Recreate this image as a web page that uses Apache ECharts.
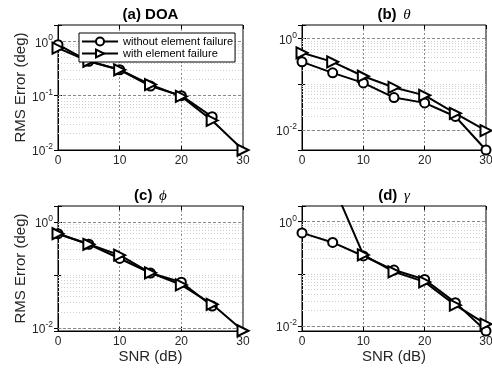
<!DOCTYPE html>
<html>
<head>
<meta charset="utf-8">
<title>RMS Error vs SNR</title>
<script src="https://cdn.jsdelivr.net/npm/echarts@6/dist/echarts.min.js"></script>
<style>
  html, body { margin: 0; padding: 0; background: #fff; }
  #chart { width: 492px; height: 370px; }
</style>
</head>
<body>
<div id="chart"></div>
<script>
// SNR steps (dB)
const snr = [0, 5, 10, 15, 20, 25, 30];

// RMS error (deg); null = not plotted (zero on log axis)
const doaWithout   = [0.87, 0.43, 0.30, 0.15, 0.100, 0.041, null];
const doaWith      = [0.75, 0.43, 0.30, 0.16, 0.097, 0.035, 0.010];
const thetaWithout = [0.31, 0.178, 0.107, 0.051, 0.039, 0.0196, 0.0036];
const thetaWith    = [0.49, 0.31, 0.15, 0.085, 0.057, 0.023, 0.0096];
const phiWithout   = [0.60, 0.38, 0.205, 0.109, 0.073, 0.026, null];
const phiWith      = [0.60, 0.38, 0.237, 0.110, 0.065, 0.028, 0.0089];
const gammaWithout = [0.61, 0.40, 0.22, 0.118, 0.078, 0.028, 0.008];
const gammaWith    = [9.0, 5.3, 0.23, 0.109, 0.070, 0.025, 0.0108];

const seriesNames = ['without element failure', 'with element failure'];
const panelTitles = ['{b|(a) DOA}', '{b|(b)}  {g|θ}', '{b|(c)}  {g|ϕ}', '{b|(d)}  {g|γ}'];
const xTicks = [0, 10, 20, 30];
const yTickLabels = [[1, 0.1, 0.01], [1, 0.01], [1, 0.01], [1, 0.01]];
const yMins = [0.01, 0.0036, 0.0088, 0.008];
const yMax = 2;

const panels = [
  [doaWithout, doaWith],
  [thetaWithout, thetaWith],
  [phiWithout, phiWith],
  [gammaWithout, gammaWith]
];

const FONT = '"Liberation Sans", Arial, Helvetica, sans-serif';
const TXT = '#262626';

const grids = [
  { left: 58, top: 25, width: 185, height: 125 },
  { left: 302, top: 25, width: 184, height: 125 },
  { left: 58, top: 206, width: 185, height: 125 },
  { left: 302, top: 206, width: 184, height: 125 }
];

const isDecade = v => Math.abs(Math.log10(v) - Math.round(Math.log10(v))) < 1e-6;

function logLabel(v, shown) {
  if (!isDecade(v)) return '';
  const e = Math.round(Math.log10(v));
  if (!shown.some(s => Math.round(Math.log10(s)) === e)) return '';
  return '{b|10}{s|' + e + '}';
}

// grid lines at 1..9 x 10^k inside the axis range
function logGridLines(min, max, major) {
  const out = [];
  for (let k = Math.floor(Math.log10(min)); k <= Math.ceil(Math.log10(max)); k++) {
    for (let m = 1; m <= 9; m++) {
      const v = m * Math.pow(10, k);
      if (v <= min * 1.0001 || v >= max * 0.9999) continue;
      const isMajor = major.some(s => Math.abs(s - v) / s < 1e-6);
      out.push({
        yAxis: v,
        lineStyle: isMajor
          ? { color: '#8a8a8a', width: 1, type: [3, 2] }
          : { color: '#cfcfcf', width: 1, type: [1, 2] }
      });
    }
  }
  return out;
}

const tickStyle = { inside: true, length: 4, lineStyle: { color: '#000' } };

const xAxes = [];
const yAxes = [];
grids.forEach((g, i) => {
  xAxes.push({
    type: 'value',
    gridIndex: i,
    min: 0,
    max: 30,
    interval: 10,
    axisLine: { onZero: false, lineStyle: { color: '#000', width: 1 } },
    axisTick: tickStyle,
    axisLabel: {
      fontSize: 12, color: TXT, margin: 5, fontFamily: FONT,
      formatter: v => (xTicks.indexOf(v) >= 0 ? String(v) : '')
    },
    splitLine: { show: true, lineStyle: { color: '#8a8a8a', width: 1, type: [2, 2] } },
    name: i >= 2 ? 'SNR (dB)' : '',
    nameLocation: 'middle',
    nameGap: 16,
    nameTextStyle: { fontSize: 15, color: TXT, fontFamily: FONT }
  });
  yAxes.push({
    type: 'log',
    logBase: 10,
    gridIndex: i,
    min: yMins[i],
    max: yMax,
    axisLine: { show: true, onZero: false, lineStyle: { color: '#000', width: 1 } },
    axisTick: tickStyle,
    axisLabel: {
      margin: 5,
      formatter: v => logLabel(v, yTickLabels[i]),
      rich: {
        b: { fontSize: 12, lineHeight: 16, verticalAlign: 'bottom', color: TXT, fontFamily: FONT },
        s: { fontSize: 8.5, lineHeight: 8, verticalAlign: 'top', color: TXT, fontFamily: FONT }
      }
    },
    splitLine: { show: false },
    name: i % 2 === 0 ? 'RMS Error (deg)' : '',
    nameLocation: 'middle',
    nameGap: 29,
    nameTextStyle: { fontSize: 15, color: TXT, fontFamily: FONT }
  });
});
// mirrored ticks on the top and right edges of each box
grids.forEach((g, i) => {
  xAxes.push({
    type: 'value', gridIndex: i, position: 'top', min: 0, max: 30, interval: 10,
    axisLine: { show: false }, axisTick: tickStyle,
    axisLabel: { show: false }, splitLine: { show: false }
  });
  yAxes.push({
    type: 'log', logBase: 10, gridIndex: i, position: 'right', min: yMins[i], max: yMax,
    axisLine: { show: false }, axisTick: tickStyle,
    axisLabel: { show: false }, splitLine: { show: false }
  });
});

const series = [];
panels.forEach((pair, i) => {
  // grid lines behind the curves
  series.push({
    type: 'line',
    xAxisIndex: i,
    yAxisIndex: i,
    data: [],
    z: 1,
    silent: true,
    markLine: {
      z: 1,
      silent: true,
      symbol: ['none', 'none'],
      label: { show: false },
      animation: false,
      data: logGridLines(yMins[i], yMax, yTickLabels[i])
    }
  });
  pair.forEach((vals, k) => {
    series.push({
      name: seriesNames[k],
      type: 'line',
      xAxisIndex: i,
      yAxisIndex: i,
      data: snr.map((x, j) => [x, vals[j] == null ? '-' : vals[j]]),
      symbol: k === 0 ? 'emptyCircle' : 'emptyTriangle',
      symbolSize: k === 0 ? 9 : 11,
      symbolRotate: k === 0 ? 0 : -90,
      lineStyle: { color: '#000', width: 2 },
      itemStyle: { color: '#000', borderWidth: 2 },
      z: 3 + k
    });
  });
});

const chart = echarts.init(document.getElementById('chart'), null, { renderer: 'canvas' });
chart.setOption({
  animation: false,
  backgroundColor: '#fff',
  grid: grids.map(g => Object.assign({
    show: true,
    borderColor: '#000',
    borderWidth: 1,
    backgroundColor: '#fff',
    containLabel: false,
    outerBoundsMode: 'none'
  }, g)),
  xAxis: xAxes,
  yAxis: yAxes,
  legend: {
    data: seriesNames,
    left: 79,
    top: 33,
    orient: 'vertical',
    itemWidth: 36,
    itemHeight: 10,
    itemGap: 1,
    padding: [3, 2, 3, 2],
    backgroundColor: '#fff',
    borderColor: '#000',
    borderWidth: 1,
    borderRadius: 0,
    textStyle: { fontSize: 11, color: '#000', fontFamily: FONT },
    z: 10
  },
  graphic: panelTitles.map((t, i) => ({
    type: 'text',
    x: grids[i].left + grids[i].width / 2,
    y: grids[i].top - 10,
    style: {
      text: t,
      align: 'center',
      verticalAlign: 'middle',
      rich: {
        b: { fontSize: 15, fontWeight: 'bold', fontFamily: FONT, fill: '#000' },
        g: { fontSize: 15, fontStyle: 'italic', fontFamily: '"Liberation Serif", "DejaVu Serif", serif', fill: '#000' }
      }
    }
  })),
  series: series
});
</script>
</body>
</html>
